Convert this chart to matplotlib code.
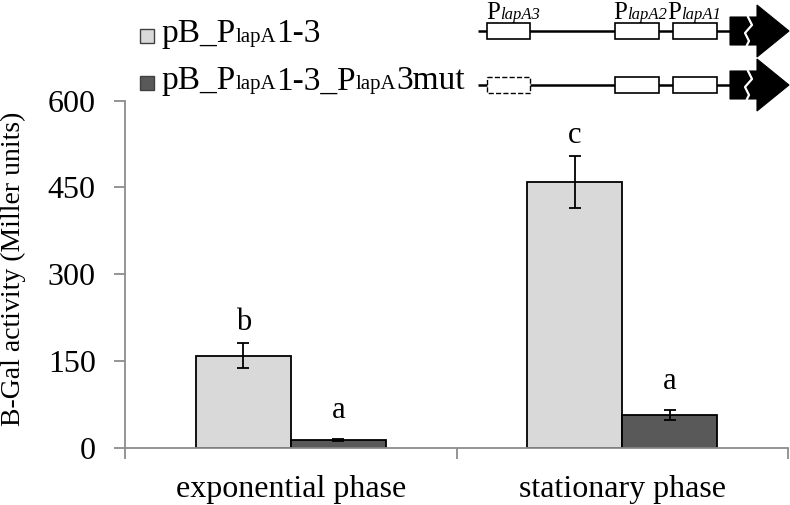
import numpy as np
import matplotlib
matplotlib.use('Agg')
import matplotlib.pyplot as plt
from matplotlib.patches import Rectangle, Polygon
from matplotlib.offsetbox import TextArea, HPacker, AnnotationBbox

plt.rcParams['font.family'] = ['Liberation Serif', 'DejaVu Serif']

# Data
phases = ['exponential phase', 'stationary phase']
wt_vals = [159, 459]
wt_err = [22, 45]
mut_vals = [13, 57]
mut_err = [2, 8.5]
wt_letters = ['b', 'c']
mut_letters = ['a', 'a']
colors = ['#d9d9d9', '#595959']
axis_gray = '#8c8c8c'

fig = plt.figure(figsize=(7.9, 5.05), dpi=100)
ax = fig.add_axes([125/790, 57.3/505, 663/790, 347/505])

x = np.arange(len(phases))
w = 0.2865
ax.bar(x - w/2, wt_vals, w, yerr=wt_err, color=colors[0], edgecolor='black',
       linewidth=1.3, capsize=4, error_kw=dict(elinewidth=1.3, capthick=1.3))
ax.bar(x + w/2, mut_vals, w, yerr=mut_err, color=colors[1], edgecolor='black',
       linewidth=1.3, capsize=4, error_kw=dict(elinewidth=1.3, capthick=1.3))

# significance letters
for i in range(len(phases)):
    ax.annotate(wt_letters[i], (x[i] - w/2, wt_vals[i] + wt_err[i]), xytext=(0, 4.5),
                textcoords='offset points', ha='center', va='bottom', fontsize=22)
    ax.annotate(mut_letters[i], (x[i] + w/2, mut_vals[i] + mut_err[i]), xytext=(0, 10),
                textcoords='offset points', ha='center', va='bottom', fontsize=22)

ax.set_xlim(-0.5, 1.5)
ax.set_ylim(0, 600)
ax.set_yticks([0, 150, 300, 450, 600])
ax.set_xticks(x)
ax.set_xticklabels(phases, fontsize=23)
ax.set_xticks([-0.5, 0.5, 1.5], minor=True)
ax.tick_params(axis='x', which='major', length=0, pad=20)
ax.tick_params(axis='x', which='minor', length=8, width=1.3, color=axis_gray, direction='out')
ax.tick_params(axis='y', length=8, width=1.3, color=axis_gray, labelsize=23, pad=13)
ax.set_ylabel('B-Gal activity (Miller units)', fontsize=20, va='center')
ax.yaxis.set_label_coords(-0.168, 0.515)
for s in ['top', 'right']:
    ax.spines[s].set_visible(False)
for s in ['left', 'bottom']:
    ax.spines[s].set_color(axis_gray)
    ax.spines[s].set_linewidth(1.3)

# overlay in pixel coordinates for legend and gene diagram
ov = fig.add_axes([0, 0, 1, 1])
ov.set_xlim(0, 790)
ov.set_ylim(505, 0)
ov.axis('off')


def rich(parts, xy, ha=0.0):
    boxes = []
    for txt, size, style in parts:
        boxes.append(TextArea(txt, textprops=dict(fontsize=size, fontstyle=style,
                                                  family='Liberation Serif')))
    pack = HPacker(children=boxes, align='baseline', pad=0, sep=0)
    ab = AnnotationBbox(pack, xy, xycoords='data', box_alignment=(ha, 0.5),
                        frameon=False, pad=0)
    ov.add_artist(ab)


big, small = 24, 15
legend_rows = [
    [('pB_P', big, 'normal'), ('lapA', small, 'normal'), ('1-3', big, 'normal')],
    [('pB_P', big, 'normal'), ('lapA', small, 'normal'), ('1-3_P', big, 'normal'),
     ('lapA', small, 'normal'), ('3mut', big, 'normal')],
]
for k, (row, yc) in enumerate(zip(legend_rows, [36, 83])):
    ov.add_patch(Rectangle((140, yc - 7), 14, 14, facecolor=colors[k],
                           edgecolor='#404040', linewidth=1))
    rich(row, (161, yc - 2))


def construct(yc, mutant):
    ov.plot([478, 731], [yc, yc], color='black', lw=1.8, solid_capstyle='butt')
    for i, (x0, x1) in enumerate([(487, 530), (615, 659), (673, 717)]):
        ls = '--' if (mutant and i == 0) else '-'
        ov.add_patch(Rectangle((x0, yc - 8), x1 - x0, 16, facecolor='white',
                               edgecolor='black', linewidth=1.2 if ls == '-' else 1.0,
                               linestyle=ls, zorder=3))
    ov.add_patch(Polygon([(730, yc - 14), (757, yc - 14), (757, yc - 26), (789, yc),
                          (757, yc + 26), (757, yc + 14), (730, yc + 14)],
                         closed=True, facecolor='black', edgecolor='black', lw=0.8))
    ov.plot([748, 752, 745, 749, 747], [yc - 14, yc - 6, yc + 2, yc + 10, yc + 14],
            color='white', lw=1.6)


construct(31, False)
construct(85, True)
for xp, name in [(486, 'lapA3'), (613, 'lapA2'), (667, 'lapA1')]:
    rich([('P', 18, 'normal'), (name, 12, 'italic')], (xp, 13))

fig.savefig('out.png', dpi=100)
